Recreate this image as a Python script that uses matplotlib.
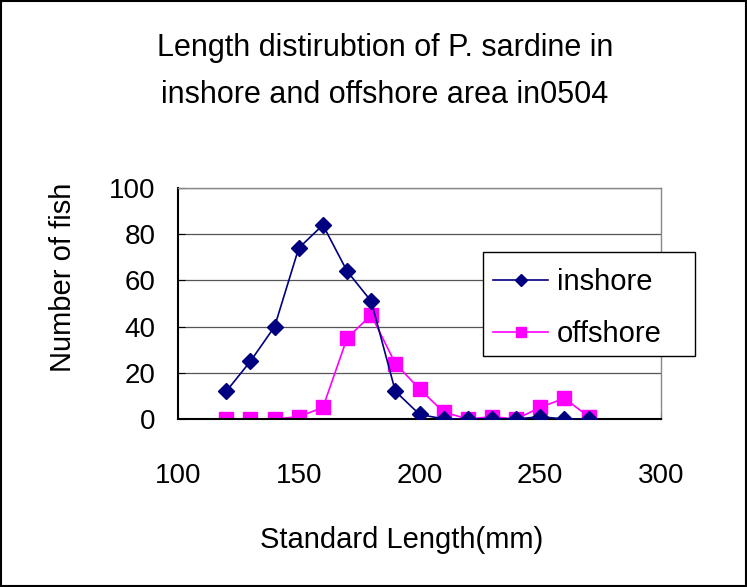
import matplotlib
matplotlib.use("Agg")
import matplotlib.pyplot as plt
from matplotlib.patches import Rectangle

plt.rcParams["font.family"] = ["Liberation Sans", "DejaVu Sans"]

# Standard length classes (mm) and fish counts
comprimentos = [120, 130, 140, 150, 160, 170, 180, 190, 200, 210, 220, 230, 240, 250, 260, 270]
inshore = [12, 25, 40, 74, 84, 64, 51, 12, 2, 0, 0, 0, 0, 1, 0, 0]
offshore = [0, 0, 0, 1, 5, 35, 45, 24, 13, 3, 0, 1, 0, 5, 9, 1]

x_ticks = [100, 150, 200, 250, 300]
y_ticks = [0, 20, 40, 60, 80, 100]

fig = plt.figure(figsize=(7.47, 5.87), dpi=100)
ax = fig.add_axes([0.2383, 0.2862, 0.6466, 0.3935])

# moldura em volta do gráfico inteiro
fig.patches.append(
    Rectangle((0.002, 0.002), 0.996, 0.996, transform=fig.transFigure,
              fill=False, edgecolor="black", linewidth=1.5)
)

for y in y_ticks[1:]:
    ax.axhline(y, color="#555555", linewidth=0.9, zorder=0)

ax.plot(comprimentos, inshore, color="#000080", marker="D", markersize=8.5,
        linewidth=1.2, label="inshore", zorder=3)
ax.plot(comprimentos, offshore, color="#FF00FF", marker="s", markersize=9.5,
        linewidth=1.2, label="offshore", zorder=2)

ax.set_xlim(100, 300)
ax.set_ylim(0, 100)
ax.set_xticks(x_ticks)
ax.set_yticks(y_ticks)
ax.tick_params(axis="both", direction="in", length=5, labelsize=20, colors="black")
ax.tick_params(axis="x", pad=32)
ax.tick_params(axis="y", pad=16)

for lado in ("left", "bottom"):
    ax.spines[lado].set_color("black")
    ax.spines[lado].set_linewidth(1.5)
for lado in ("top", "right"):
    ax.spines[lado].set_color("#888888")
    ax.spines[lado].set_linewidth(1.0)

fig.text(0.537, 0.080, "Standard Length(mm)", ha="center", va="center", fontsize=21)
fig.text(0.084, 0.527, "Number of fish", ha="center", va="center",
         rotation=90, fontsize=21)

fig.text(0.515, 0.918, "Length distirubtion of P. sardine in", ha="center",
         va="center", fontsize=22)
fig.text(0.515, 0.838, "inshore and offshore area in0504", ha="center",
         va="center", fontsize=22)

# legenda sem moldura própria; a caixa é desenhada à parte
leg = fig.legend(loc="upper left", bbox_to_anchor=(0.6386, 0.5707),
                 bbox_transform=fig.transFigure, fontsize=21,
                 frameon=False, handlelength=1.9, handletextpad=0.3,
                 borderpad=0.55, borderaxespad=0, labelspacing=0.83,
                 markerscale=0.7)
fig.patches.append(
    Rectangle((483 / 747, 1 - 356 / 587), (695 - 483) / 747, (356 - 252) / 587,
              transform=fig.transFigure, facecolor="white",
              edgecolor="black", linewidth=1.0, zorder=4)
)
leg.set_zorder(5)

fig.savefig("out.png", dpi=100)
